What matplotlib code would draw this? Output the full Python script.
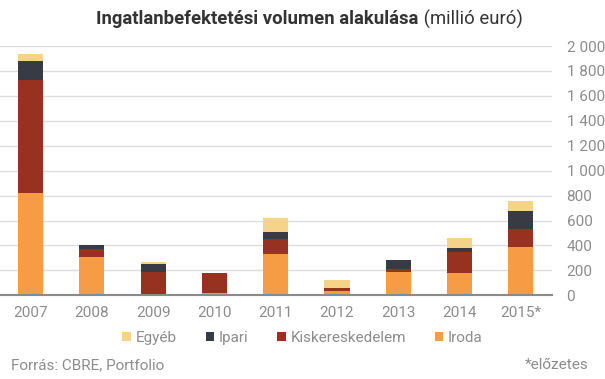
import matplotlib
matplotlib.use("Agg")
import matplotlib.pyplot as plt
from matplotlib.patches import Patch
import numpy as np

plt.rcParams['font.family'] = ['Roboto', 'DejaVu Sans']

years = ['2007', '2008', '2009', '2010', '2011', '2012', '2013', '2014', '2015*']
# millió euró
iroda = [820, 307, 11, 19, 332, 35, 187, 179, 388]
kisker = [906, 65, 176, 160, 120, 24, 24, 169, 144]
ipari = [153, 32, 64, 0, 56, 0, 72, 32, 145]
egyeb = [56, 0, 16, 0, 112, 64, 0, 80, 80]

series_names = ['Egyéb', 'Ipari', 'Kiskereskedelem', 'Iroda']
colors = {'Iroda': '#f59c45', 'Kiskereskedelem': '#973120',
          'Ipari': '#383b43', 'Egyéb': '#f5d48a'}
gray = '#8c8c8c'

W, H = 605, 379
fig = plt.figure(figsize=(W / 100, H / 100), dpi=100)
ax = fig.add_axes([0, 1 - 295.3 / H, 552 / W, (295.3 - 46) / H])

x = np.arange(len(years))
bottom = np.zeros(len(years))
for name, vals in [('Iroda', iroda), ('Kiskereskedelem', kisker),
                   ('Ipari', ipari), ('Egyéb', egyeb)]:
    ax.bar(x, vals, width=0.41, bottom=bottom, color=colors[name], zorder=3)
    bottom += np.array(vals)

ax.set_xlim(-0.5, 8.51)
ax.set_ylim(0, 2000)
ax.set_yticks(range(0, 2001, 200))
ax.set_yticklabels([f"{v:,}".replace(',', ' ') for v in range(0, 2001, 200)])
ax.yaxis.tick_right()
ax.set_xticks(x)
ax.set_xticklabels(years)
ax.tick_params(axis='both', length=0, labelsize=11, labelcolor=gray)
ax.tick_params(axis='y', pad=10.5)
ax.tick_params(axis='x', pad=8)
for lab in ax.get_yticklabels():
    lab.set_horizontalalignment('left')

ax.grid(axis='y', color='#dcdcdc', lw=1, zorder=0)
ax.set_axisbelow(True)
for s in ['top', 'left', 'right']:
    ax.spines[s].set_visible(False)
ax.spines['bottom'].set_color('#8a8a8a')
ax.spines['bottom'].set_linewidth(1.5)
ax.spines['bottom'].set_zorder(4)

# title: bold part + regular part, centred together
fig.canvas.draw()
r = fig.canvas.get_renderer()
t1 = fig.text(0, 1 - 19 / H, 'Ingatlanbefektetési volumen alakulása', fontsize=13.3,
              fontweight='bold', color='#333333', va='center')
t2 = fig.text(0, 1 - 19 / H, ' (millió euró)', fontsize=13.3, color='#333333', va='center')
w1 = t1.get_window_extent(r).width
w2 = t2.get_window_extent(r).width
x0 = 309.5 - (w1 + w2) / 2
t1.set_x(x0 / W)
t2.set_x((x0 + w1) / W)

handles = [Patch(facecolor=colors[n], edgecolor='none', label=n) for n in series_names]
leg = fig.legend(handles=handles, loc='center', bbox_to_anchor=(0.5, 1 - 338 / H),
                 ncol=4, frameon=False, fontsize=11, handlelength=0.55,
                 handleheight=0.55, handletextpad=0.3, columnspacing=1.9,
                 labelcolor=gray)

fig.text(11 / W, 1 - 365 / H, 'Forrás: CBRE, Portfolio', fontsize=11, color=gray, va='center')
fig.text(589 / W, 1 - 365 / H, '*előzetes', fontsize=11, color=gray, va='center', ha='right')

fig.savefig('out.png', dpi=100)
